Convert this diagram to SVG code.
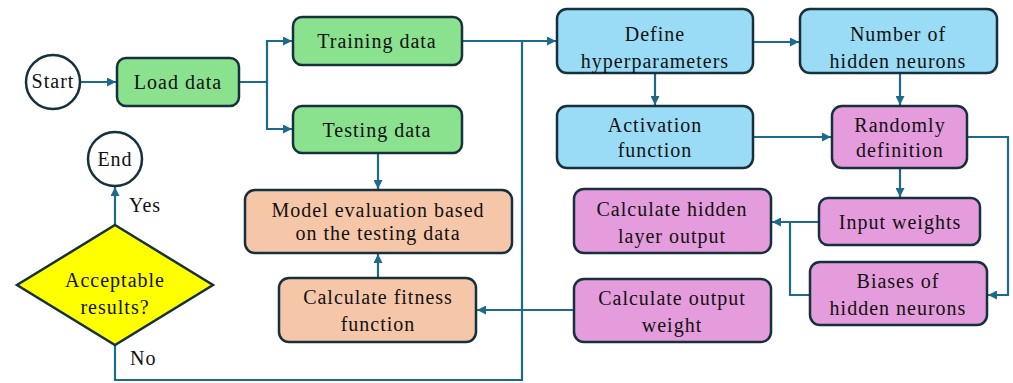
<svg xmlns="http://www.w3.org/2000/svg" width="1013" height="383" viewBox="0 0 1013 383">
  <style>
    .box { stroke: #16303e; stroke-width: 2.5; }
    .green { fill: #8ae28f; }
    .blue { fill: #9adcf6; }
    .pink { fill: #e59cdc; }
    .peach { fill: #f6c6a8; }
    .term { fill: #ffffff; stroke: #16303e; stroke-width: 2.5; }
    .dec { fill: #ffff00; stroke: #16303e; stroke-width: 2.5; }
    .t { font-family: "Liberation Serif", serif; font-size: 20px; fill: #111; text-anchor: middle; letter-spacing: 1px; }
    .lbl { text-anchor: start; }
    .conn path { fill: none; stroke: #1e6a8c; stroke-width: 2.2; }
  </style>
  <defs>
    <marker id="arr" viewBox="0 0 10 10" refX="10" refY="5" markerWidth="10" markerHeight="9" markerUnits="userSpaceOnUse" orient="auto">
      <path d="M0,0 L10,5 L0,10 z" fill="#1e6a8c"/>
    </marker>
  </defs>
  <rect width="1013" height="383" fill="#ffffff"/>

  <!-- connectors -->
  <g class="conn" id="connectors">
    <path d="M80,82 H116" marker-end="url(#arr)"/>
    <path d="M239,82 H267 V41 H292" marker-end="url(#arr)"/>
    <path d="M267,82 V129 H292" marker-end="url(#arr)"/>
    <path d="M378,153 V189" marker-end="url(#arr)"/>
    <path d="M378,278 V254" marker-end="url(#arr)"/>
    <path d="M115,225 V187" marker-end="url(#arr)"/>
    <path d="M115,345 V380 H522 V41"/>
    <path d="M462,41 H556" marker-end="url(#arr)"/>
    <path d="M753,42 H799" marker-end="url(#arr)"/>
    <path d="M655,73 V105" marker-end="url(#arr)"/>
    <path d="M900,73 V105" marker-end="url(#arr)"/>
    <path d="M753,137 H831" marker-end="url(#arr)"/>
    <path d="M900,168 V197" marker-end="url(#arr)"/>
    <path d="M967,137 H1008 V295 H988" marker-end="url(#arr)"/>
    <path d="M819,222 H772" marker-end="url(#arr)"/>
    <path d="M810,295 H790 V222"/>
    <path d="M574,310 H477" marker-end="url(#arr)"/>
  </g>

  <!-- terminals -->
  <g id="start">
    <circle class="term" cx="53" cy="82" r="27"/>
    <text class="t" font-family="Liberation Serif" x="53" y="88">Start</text>
  </g>
  <g id="end">
    <circle class="term" cx="115" cy="159" r="27"/>
    <text class="t" font-family="Liberation Serif" x="115" y="166">End</text>
  </g>

  <!-- data preparation -->
  <g id="load-data">
    <rect class="box green" x="117" y="58" width="122" height="48" rx="9"/>
    <text class="t" font-family="Liberation Serif" x="178" y="89">Load data</text>
  </g>
  <g id="training-data">
    <rect class="box green" x="293" y="17" width="169" height="48" rx="9"/>
    <text class="t" font-family="Liberation Serif" x="377" y="48">Training data</text>
  </g>
  <g id="testing-data">
    <rect class="box green" x="293" y="106" width="169" height="47" rx="9"/>
    <text class="t" font-family="Liberation Serif" x="377" y="137">Testing data</text>
  </g>

  <!-- evaluation -->
  <g id="model-evaluation">
    <rect class="box peach" x="245" y="190" width="267" height="63" rx="10"/>
    <text class="t" font-family="Liberation Serif" x="378" y="217">Model evaluation based</text>
    <text class="t" font-family="Liberation Serif" x="378" y="240">on the testing data</text>
  </g>
  <g id="fitness">
    <rect class="box peach" x="279" y="278" width="197" height="64" rx="10"/>
    <text class="t" font-family="Liberation Serif" x="378" y="304">Calculate fitness</text>
    <text class="t" font-family="Liberation Serif" x="378" y="331">function</text>
  </g>
  <g id="decision">
    <polygon class="dec" points="115,225 213,285 115,345 17,285"/>
    <text class="t" font-family="Liberation Serif" x="115" y="287">Acceptable</text>
    <text class="t" font-family="Liberation Serif" x="115" y="314">results?</text>
  </g>
  <text class="t lbl" font-family="Liberation Serif" x="129" y="212">Yes</text>
  <text class="t lbl" font-family="Liberation Serif" x="130" y="365">No</text>

  <!-- hyperparameters -->
  <g id="define-hyperparameters">
    <rect class="box blue" x="557" y="9" width="196" height="64" rx="10"/>
    <text class="t" font-family="Liberation Serif" x="655" y="41">Define</text>
    <text class="t" font-family="Liberation Serif" x="655" y="68">hyperparameters</text>
  </g>
  <g id="hidden-neurons">
    <rect class="box blue" x="800" y="9" width="197" height="64" rx="10"/>
    <text class="t" font-family="Liberation Serif" x="898" y="41">Number of</text>
    <text class="t" font-family="Liberation Serif" x="898" y="68">hidden neurons</text>
  </g>
  <g id="activation">
    <rect class="box blue" x="557" y="106" width="196" height="62" rx="10"/>
    <text class="t" font-family="Liberation Serif" x="655" y="132">Activation</text>
    <text class="t" font-family="Liberation Serif" x="655" y="157">function</text>
  </g>

  <!-- network parameters -->
  <g id="randomly-definition">
    <rect class="box pink" x="832" y="106" width="135" height="62" rx="10"/>
    <text class="t" font-family="Liberation Serif" x="900" y="132">Randomly</text>
    <text class="t" font-family="Liberation Serif" x="900" y="157">definition</text>
  </g>
  <g id="input-weights">
    <rect class="box pink" x="819" y="198" width="161" height="47" rx="9"/>
    <text class="t" font-family="Liberation Serif" x="900" y="229">Input weights</text>
  </g>
  <g id="biases">
    <rect class="box pink" x="810" y="262" width="177" height="63" rx="10"/>
    <text class="t" font-family="Liberation Serif" x="898" y="288">Biases of</text>
    <text class="t" font-family="Liberation Serif" x="898" y="315">hidden neurons</text>
  </g>
  <g id="hidden-output">
    <rect class="box pink" x="574" y="189" width="197" height="64" rx="10"/>
    <text class="t" font-family="Liberation Serif" x="672" y="216">Calculate hidden</text>
    <text class="t" font-family="Liberation Serif" x="672" y="243">layer output</text>
  </g>
  <g id="output-weight">
    <rect class="box pink" x="574" y="279" width="197" height="63" rx="10"/>
    <text class="t" font-family="Liberation Serif" x="672" y="305">Calculate output</text>
    <text class="t" font-family="Liberation Serif" x="672" y="332">weight</text>
  </g>
</svg>
